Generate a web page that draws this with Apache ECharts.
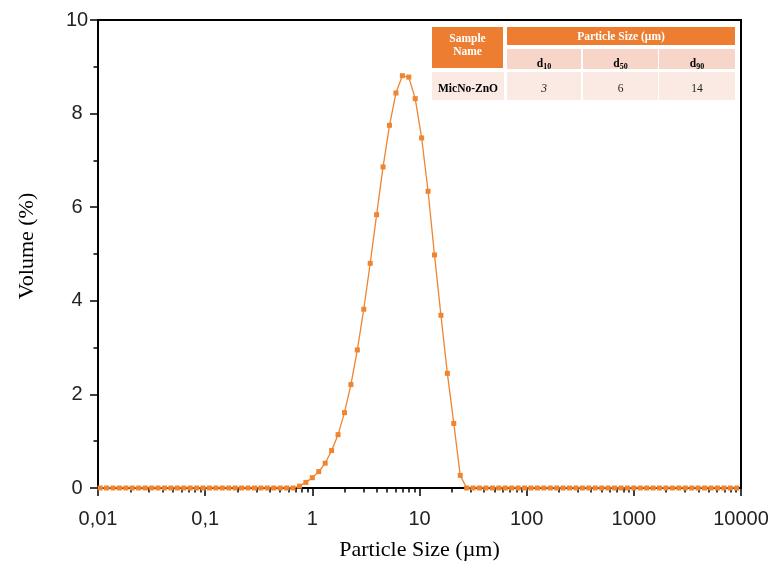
<!DOCTYPE html>
<html>
<head>
<meta charset="utf-8">
<script src="https://cdn.jsdelivr.net/npm/echarts@6/dist/echarts.min.js"></script>
<style>
  html, body { margin: 0; padding: 0; background: #fff; }
  #chart { width: 773px; height: 566px; }
</style>
</head>
<body>
<div id="chart"></div>
<script>
// 粒径 (µm)，对数等间隔
const sizes = [
  0.01047, 0.01202, 0.01380, 0.01585, 0.01820, 0.02089, 0.02399, 0.02754, 0.03162, 0.03631,
  0.04169, 0.04786, 0.05495, 0.06310, 0.07244, 0.08318, 0.09550, 0.1096, 0.1259, 0.1445,
  0.1660, 0.1905, 0.2188, 0.2512, 0.2884, 0.3311, 0.3802, 0.4365, 0.5012, 0.5754,
  0.6607, 0.7586, 0.8710, 1.000, 1.148, 1.318, 1.514, 1.738, 1.995, 2.291,
  2.630, 3.020, 3.467, 3.981, 4.571, 5.248, 6.026, 6.918, 7.943, 9.120,
  10.47, 12.02, 13.80, 15.85, 18.20, 20.89, 23.99, 27.54, 31.62, 36.31,
  41.69, 47.86, 54.95, 63.10, 72.44, 83.18, 95.50, 109.6, 125.9, 144.5,
  166.0, 190.5, 218.8, 251.2, 288.4, 331.1, 380.2, 436.5, 501.2, 575.4,
  660.7, 758.6, 871.0, 1000, 1148, 1318, 1514, 1738, 1995, 2291,
  2630, 3020, 3467, 3981, 4571, 5248, 6026, 6918, 7943, 9120
];
// 体积分数 (%)
const volumes = [
  0, 0, 0, 0, 0, 0, 0, 0, 0, 0,
  0, 0, 0, 0, 0, 0, 0, 0, 0, 0,
  0, 0, 0, 0, 0, 0, 0, 0, 0, 0,
  0, 0.04, 0.12, 0.22, 0.35, 0.53, 0.80, 1.14, 1.61, 2.21,
  2.95, 3.82, 4.80, 5.84, 6.86, 7.75, 8.44, 8.81, 8.78, 8.32,
  7.48, 6.34, 4.98, 3.69, 2.45, 1.38, 0.27, 0, 0, 0,
  0, 0, 0, 0, 0, 0, 0, 0, 0, 0,
  0, 0, 0, 0, 0, 0, 0, 0, 0, 0,
  0, 0, 0, 0, 0, 0, 0, 0, 0, 0,
  0, 0, 0, 0, 0, 0, 0, 0, 0, 0
];

// 坐标轴刻度
const xTickValues = [0.01, 0.1, 1, 10, 100, 1000, 10000];
const xTickLabels = ['0,01', '0,1', '1', '10', '100', '1000', '10000'];
const xMinorTicks = [
  0.02, 0.03, 0.04, 0.05, 0.06, 0.07, 0.08, 0.09,
  0.2, 0.3, 0.4, 0.5, 0.6, 0.7, 0.8, 0.9,
  2, 3, 4, 5, 6, 7, 8, 9,
  20, 30, 40, 50, 60, 70, 80, 90,
  200, 300, 400, 500, 600, 700, 800, 900,
  2000, 3000, 4000, 5000, 6000, 7000, 8000, 9000
];

// 表格内容
const tableSample = 'MicNo-ZnO';
const tableKeys = ['10', '50', '90'];
const tableValues = ['3', '6', '14'];

const ORANGE = '#F0842F';
const SERIF = '"Liberation Serif", "DejaVu Serif", serif';
const SANS = '"Liberation Sans", Arial, sans-serif';

const chart = echarts.init(document.getElementById('chart'));

// 表格：用 graphic 画矩形 + 文字
function buildTable() {
  const els = [];
  const hdr = '#ED7D31', sub = '#F8D5C9', row = '#FBEAE4';
  const colX = [507, 583, 659];
  const colW = [74, 75, 76];
  const bold = 'bold 11.5px ' + SERIF;
  els.push({ type: 'rect', shape: { x: 432, y: 27, width: 71, height: 41 }, style: { fill: hdr } });
  els.push({ type: 'text', x: 467.5, y: 45.5, style: { text: 'Sample\nName', fill: '#fff', font: bold, align: 'center', verticalAlign: 'middle', lineHeight: 13 } });
  els.push({ type: 'rect', shape: { x: 507, y: 27, width: 228, height: 18 }, style: { fill: hdr } });
  els.push({ type: 'text', x: 621, y: 37, style: { text: 'Particle Size (µm)', fill: '#fff', font: bold, align: 'center', verticalAlign: 'middle' } });
  tableKeys.forEach((k, i) => {
    els.push({ type: 'rect', shape: { x: colX[i], y: 49, width: colW[i], height: 20 }, style: { fill: sub } });
    els.push({
      type: 'text', x: colX[i] + colW[i] / 2, y: 64,
      style: {
        text: '{d|d}{s|' + k + '}', align: 'center', verticalAlign: 'middle',
        rich: {
          d: { font: 'bold 11.5px ' + SERIF, fill: '#000' },
          s: { font: 'bold 8px ' + SERIF, fill: '#000', padding: [5, 0, 0, 0] }
        }
      }
    });
    els.push({ type: 'rect', shape: { x: colX[i], y: 72, width: colW[i], height: 28 }, style: { fill: row } });
    els.push({
      type: 'text', x: colX[i] + colW[i] / 2, y: 89,
      style: { text: tableValues[i], fill: '#222', font: (i === 0 ? 'italic ' : '') + '11.5px ' + SERIF, align: 'center', verticalAlign: 'middle' }
    });
  });
  els.push({ type: 'rect', shape: { x: 432, y: 72, width: 72, height: 28 }, style: { fill: row } });
  els.push({ type: 'text', x: 468, y: 89, style: { text: tableSample, fill: '#000', font: bold, align: 'center', verticalAlign: 'middle' } });
  return els;
}

const option = {
  backgroundColor: '#fff',
  animation: false,
  grid: {
    left: 98, right: 32, top: 20, bottom: 77,
    show: true, borderColor: '#000', borderWidth: 2, backgroundColor: 'transparent'
  },
  xAxis: [
    {
      type: 'log', logBase: 10, min: 0.01, max: 10000,
      name: 'Particle Size (µm)', nameLocation: 'middle', nameGap: 51,
      nameTextStyle: { fontFamily: SERIF, fontSize: 22, color: '#000' },
      axisLine: { lineStyle: { color: '#000', width: 2 } },
      axisTick: { inside: false, length: 8, lineStyle: { color: '#000', width: 1.5 }, customValues: xTickValues },
      axisLabel: {
        customValues: xTickValues, margin: 21,
        fontFamily: SANS, fontSize: 20, color: '#222',
        formatter: v => xTickLabels[Math.round(Math.log10(v)) + 2]
      },
      splitLine: { show: false }, minorSplitLine: { show: false }
    },
    {
      type: 'log', logBase: 10, min: 0.01, max: 10000, position: 'bottom', gridIndex: 0,
      axisLine: { show: false },
      axisTick: { inside: false, length: 4.5, lineStyle: { color: '#000', width: 1.5 }, customValues: xMinorTicks },
      axisLabel: { show: false },
      splitLine: { show: false }
    }
  ],
  yAxis: {
    type: 'value', min: 0, max: 10, interval: 2,
    name: 'Volume (%)', nameLocation: 'middle', nameGap: 60,
    nameTextStyle: { fontFamily: SERIF, fontSize: 22, color: '#000', padding: [0, 0, 0, 16] },
    axisLine: { show: true, lineStyle: { color: '#000', width: 2 } },
    axisTick: { show: true, inside: false, length: 8, lineStyle: { color: '#000', width: 1.5 } },
    minorTick: { show: true, splitNumber: 2, length: 4.5, lineStyle: { color: '#000', width: 1.5 } },
    axisLabel: { margin: 21, align: 'center', fontFamily: SANS, fontSize: 20, color: '#222' },
    splitLine: { show: false }
  },
  series: [{
    type: 'line',
    xAxisIndex: 0,
    data: sizes.map((s, i) => [s, volumes[i]]),
    symbol: 'rect', symbolSize: 5, showAllSymbol: true,
    lineStyle: { color: ORANGE, width: 1.3 },
    itemStyle: { color: ORANGE },
    z: 3
  }],
  graphic: buildTable()
};

chart.setOption(option);
</script>
</body>
</html>
